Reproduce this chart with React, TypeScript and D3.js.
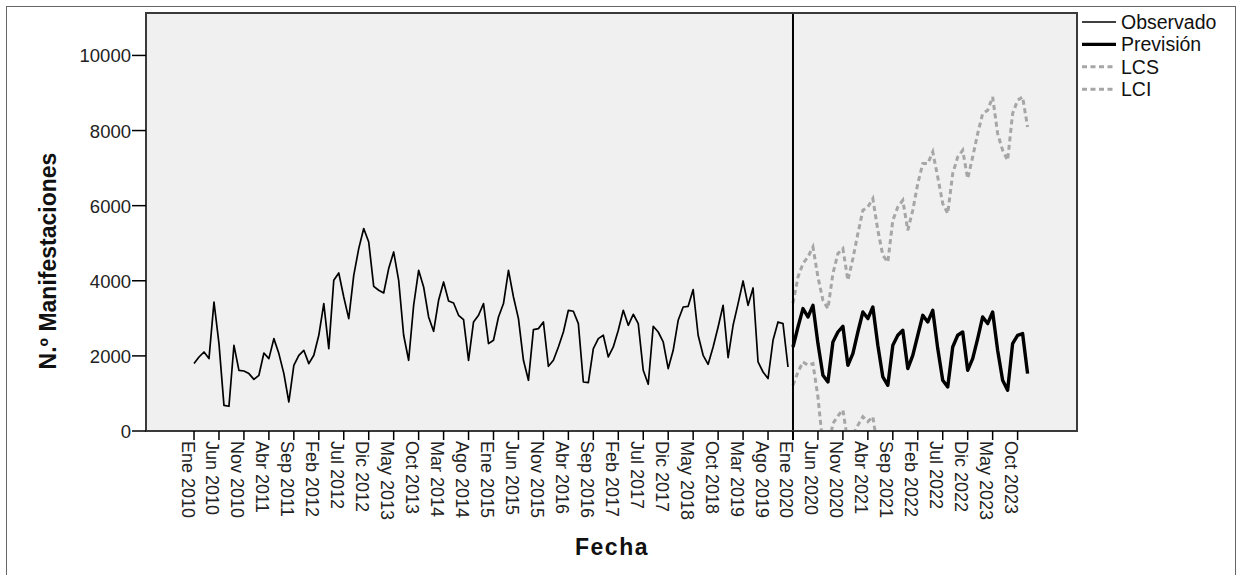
import React from "react";
import * as d3 from "d3";

// Observed monthly values, Ene 2010 .. Dic 2019 (month index 0..119)
const observado: number[] = [
  1795, 1971, 2104, 1928, 3435, 2327, 684, 658, 2282, 1616,
  1598, 1528, 1376, 1483, 2077, 1928, 2460, 2061, 1528, 772,
  1750, 2016, 2149, 1795, 2016, 2549, 3393, 2194, 4013, 4208,
  3568, 2993, 4146, 4857, 5390, 5033, 3853, 3747, 3675, 4325,
  4767, 4013, 2549, 1883, 3347, 4279, 3835, 3036, 2655, 3481,
  3968, 3462, 3409, 3081, 2966, 1883, 2903, 3081, 3393, 2327,
  2415, 3036, 3393, 4279, 3568, 2993, 1883, 1350, 2700, 2726,
  2903, 1723, 1883, 2237, 2636, 3214, 3188, 2860, 1305, 1290,
  2194, 2460, 2549, 1971, 2237, 2682, 3214, 2815, 3108, 2860,
  1616, 1244, 2788, 2636, 2370, 1662, 2149, 2948, 3302, 3320,
  3765, 2549, 2016, 1776, 2237, 2770, 3347, 1955, 2815, 3393,
  3995, 3347, 3808, 1838, 1571, 1395, 2415, 2903, 2860, 1704,
];

// Forecast, Ene 2020 .. Dic 2023 (month index 120..167)
const prevision: number[] = [
  2237, 2770, 3259, 3036, 3347, 2327, 1483, 1305, 2370, 2636, 2788, 1750,
  2061, 2636, 3169, 2993, 3302, 2282, 1438, 1217, 2282, 2549, 2682, 1662,
  2016, 2549, 3081, 2903, 3214, 2194, 1350, 1172, 2237, 2549, 2636, 1616,
  1928, 2460, 3036, 2860, 3169, 2149, 1350, 1084, 2327, 2549, 2594, 1528,
];

// Upper confidence limit (month index 120..167)
const lcs: number[] = [
  3400, 4101, 4457, 4634, 4900, 4101, 3481, 3259, 4191, 4724, 4857, 4013,
  4591, 5257, 5877, 5965, 6189, 5345, 4679, 4500, 5611, 5965, 6144, 5345,
  5877, 6588, 7121, 7121, 7430, 6764, 6056, 5789, 6855, 7297, 7475, 6721,
  7297, 7920, 8452, 8540, 8894, 7920, 7475, 7209, 8452, 8807, 8894, 8096,
];

// Lower confidence limit (month index 120..139; later values fall below the axis)
const lci: number[] = [
  1217, 1571, 1838, 1750, 1795, 905, -400, -500, 200, 400, 560, -300,
  -100, 150, 380, 250, 380, -500, -1000, -1400,
];

const tickLabels: string[] = [
  "Ene 2010", "Jun 2010", "Nov 2010", "Abr 2011", "Sep 2011", "Feb 2012",
  "Jul 2012", "Dic 2012", "May 2013", "Oct 2013", "Mar 2014", "Ago 2014",
  "Ene 2015", "Jun 2015", "Nov 2015", "Abr 2016", "Sep 2016", "Feb 2017",
  "Jul 2017", "Dic 2017", "May 2018", "Oct 2018", "Mar 2019", "Ago 2019",
  "Ene 2020", "Jun 2020", "Nov 2020", "Abr 2021", "Sep 2021", "Feb 2022",
  "Jul 2022", "Dic 2022", "May 2023", "Oct 2023",
];
const tickStep = 5;
const yTicks: number[] = [0, 2000, 4000, 6000, 8000, 10000];
const forecastStart = 120;

const legendItems = [
  { label: "Observado", kind: "obs" },
  { label: "Previsión", kind: "prev" },
  { label: "LCS", kind: "lim" },
  { label: "LCI", kind: "lim" },
];

export default function App() {
  const W = 1237;
  const H = 575;
  const left = 146, right = 1077, top = 13, bottom = 431;
  const x = d3.scaleLinear().domain([-9.62, 176.9]).range([left, right]);
  const y = d3.scaleLinear().domain([0, 11130]).range([bottom, top]);

  const line = d3
    .line<[number, number]>()
    .x((d) => x(d[0]))
    .y((d) => y(d[1]));

  const obsPts = observado.map((v, i) => [i, v] as [number, number]);
  const prevPts = prevision.map((v, i) => [forecastStart + i, v] as [number, number]);
  const lcsPts = lcs.map((v, i) => [forecastStart + i, v] as [number, number]);
  const lciPts = lci.map((v, i) => [forecastStart + i, v] as [number, number]);

  const font = "Arial, 'Liberation Sans', sans-serif";
  const gray = "#a6a6a6";

  return (
    <svg
      width={W}
      height={H}
      style={{ position: "absolute", left: 0, top: 0, background: "#fff" }}
      fontFamily={font}
    >
      <defs>
        <clipPath id="plotClip">
          <rect x={left} y={top} width={right - left} height={bottom - top} />
        </clipPath>
      </defs>
      {/* outer frame */}
      <rect x={6.5} y={6.5} width={1229} height={580} fill="#fff" stroke="#666" strokeWidth={1} />
      {/* plot background */}
      <rect x={left} y={top} width={right - left} height={bottom - top} fill="#f0f0f0" />

      <g clipPath="url(#plotClip)">
        <path d={line(lcsPts) || ""} fill="none" stroke={gray} strokeWidth={3} strokeDasharray="5,3.5" />
        <path d={line(lciPts) || ""} fill="none" stroke={gray} strokeWidth={3} strokeDasharray="5,3.5" />
        <path d={line(obsPts) || ""} fill="none" stroke="#000" strokeWidth={1.7} strokeLinejoin="round" />
        <path d={line(prevPts) || ""} fill="none" stroke="#000" strokeWidth={3.4} strokeLinejoin="round" />
      </g>

      {/* reference line at forecast start */}
      <line x1={x(forecastStart)} x2={x(forecastStart)} y1={top} y2={bottom + 9} stroke="#000" strokeWidth={2} />

      {/* plot frame */}
      <rect x={left} y={top} width={right - left} height={bottom - top} fill="none" stroke="#3a3a3a" strokeWidth={2} />

      {/* y axis ticks */}
      {yTicks.map((t) => (
        <g key={t}>
          <line x1={132} x2={left} y1={y(t)} y2={y(t)} stroke="#000" strokeWidth={1.5} />
          <text x={131} y={y(t) + 7} textAnchor="end" fontSize={18.5} fill="#222">
            {t}
          </text>
        </g>
      ))}

      {/* x axis ticks */}
      {tickLabels.map((lab, i) => {
        const xv = x(i * tickStep);
        return (
          <g key={lab}>
            <line x1={xv} x2={xv} y1={bottom} y2={bottom + 9} stroke="#000" strokeWidth={1.5} />
            <text
              transform={`translate(${xv - 12.5},${bottom + 10}) rotate(90)`}
              fontSize={18}
              fill="#222"
            >
              {lab}
            </text>
          </g>
        );
      })}

      {/* axis titles */}
      <text
        transform={`translate(56,261) rotate(-90)`}
        textAnchor="middle"
        fontSize={23}
        fontWeight="bold"
        fill="#111"
      >
        N.º Manifestaciones
      </text>
      <text x={612} y={555} textAnchor="middle" fontSize={23} fontWeight="bold" letterSpacing={1.5} fill="#111">
        Fecha
      </text>

      {/* legend */}
      {legendItems.map((it, i) => {
        const ly = 22 + 22.4 * i;
        return (
          <g key={it.label}>
            {it.kind === "obs" && (
              <line x1={1082} x2={1116} y1={ly} y2={ly} stroke="#000" strokeWidth={1.6} />
            )}
            {it.kind === "prev" && (
              <line x1={1082} x2={1116} y1={ly} y2={ly} stroke="#000" strokeWidth={3.4} />
            )}
            {it.kind === "lim" && (
              <line x1={1082} x2={1116} y1={ly} y2={ly} stroke={gray} strokeWidth={3} strokeDasharray="5,3.5" />
            )}
            <text x={1121} y={ly + 7} fontSize={19.5} fill="#111">
              {it.label}
            </text>
          </g>
        );
      })}
    </svg>
  );
}
